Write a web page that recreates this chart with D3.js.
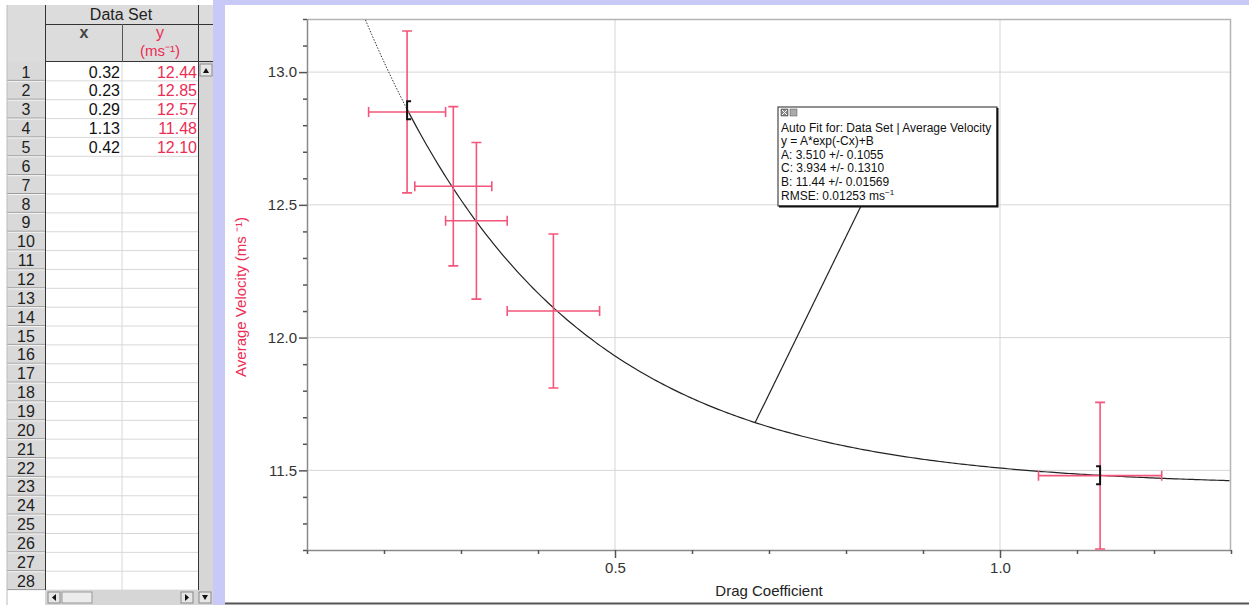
<!DOCTYPE html>
<html>
<head>
<meta charset="utf-8">
<script src="https://cdn.jsdelivr.net/npm/d3@7"></script>
<style>
  body { margin: 0; background: #fff; }
  svg { display: block; font-family: "Liberation Sans", Arial, sans-serif; }
</style>
</head>
<body>
<svg id="svg" width="1249" height="605"></svg>
<script>
// data set (table order)
const xVals = [0.32, 0.23, 0.29, 1.13, 0.42];
const yVals = [12.44, 12.85, 12.57, 11.48, 12.10];
const xErr = [0.04, 0.05, 0.05, 0.08, 0.06];
const yErr = [0.295, 0.305, 0.30, 0.276, 0.29];
const yLabels = ['12.44', '12.85', '12.57', '11.48', '12.10'];

// auto fit y = A*exp(-Cx)+B
const fitA = 3.510, fitC = 3.934, fitB = 11.44;
const fitRange = [0.23, 1.13];
const fitLines = [
  'Auto Fit for: Data Set | Average Velocity',
  'y = A*exp(-Cx)+B',
  'A: 3.510 +/- 0.1055',
  'C: 3.934 +/- 0.1310',
  'B: 11.44 +/- 0.01569'
];

// axis ticks
const xMajor = [0.5, 1.0];
const xMinor = [0.1, 0.2, 0.3, 0.4, 0.6, 0.7, 0.8, 0.9, 1.1, 1.2, 1.3];
const yMajor = [11.5, 12.0, 12.5, 13.0];
const yMinor = [11.2, 11.3, 11.4, 11.6, 11.7, 11.8, 11.9, 12.1, 12.2, 12.3, 12.4, 12.6, 12.7, 12.8, 12.9, 13.1, 13.2];

const red = '#ec2d55';
const barRed = '#f4557a';
const svg = d3.select('#svg');

// ---------- frame / background ----------
svg.append('rect').attr('x', 213).attr('y', 0).attr('width', 1249 - 213).attr('height', 5).attr('fill', '#c9c9f7');
svg.append('rect').attr('x', 213).attr('y', 0).attr('width', 12).attr('height', 605).attr('fill', '#c9c9f7');
svg.append('line').attr('x1', 225).attr('x2', 1249).attr('y1', 603.5).attr('y2', 603.5).attr('stroke', '#555').attr('stroke-width', 2);

// ---------- table ----------
const tbl = svg.append('g');
const rowTop = 62, rowH = 18.86, nRows = 28;
const rows = d3.range(1, nRows + 1);
const ry = d3.scaleLinear().domain([0, nRows]).range([rowTop, rowTop + rowH * nRows]);

// header background
tbl.append('rect').attr('x', 7).attr('y', 5).attr('width', 206).attr('height', rowTop - 5).attr('fill', '#dcdcdc');
// row number column
tbl.append('rect').attr('x', 7).attr('y', rowTop).attr('width', 38).attr('height', rowH * nRows).attr('fill', '#d9d9d9');
// scrollbar column
tbl.append('rect').attr('x', 198).attr('y', rowTop).attr('width', 15).attr('height', rowH * nRows + 15).attr('fill', '#d6d6d6');

rows.forEach((r, i) => {
  tbl.append('line').attr('x1', 7).attr('x2', 45).attr('y1', ry(i + 1) - 0.5).attr('y2', ry(i + 1) - 0.5).attr('stroke', '#9a9a9a');
  tbl.append('line').attr('x1', 7).attr('x2', 45).attr('y1', ry(i + 1) + 0.5).attr('y2', ry(i + 1) + 0.5).attr('stroke', '#f4f4f4');
  tbl.append('line').attr('x1', 45).attr('x2', 198).attr('y1', ry(i + 1)).attr('y2', ry(i + 1)).attr('stroke', '#d8d8d8');
  tbl.append('text').attr('x', 26).attr('y', ry(i) + 15.5).attr('text-anchor', 'middle')
    .attr('font-size', 16).attr('fill', '#222').text(r);
});
tbl.append('line').attr('x1', 122).attr('x2', 122).attr('y1', rowTop).attr('y2', ry(nRows)).attr('stroke', '#d8d8d8');

xVals.forEach((v, i) => {
  tbl.append('text').attr('x', 120).attr('y', ry(i) + 15.5).attr('text-anchor', 'end')
    .attr('font-size', 16).attr('fill', '#111').text(v.toFixed(2));
  tbl.append('text').attr('x', 197).attr('y', ry(i) + 15.5).attr('text-anchor', 'end')
    .attr('font-size', 16).attr('fill', red).text(yLabels[i]);
});

// header texts & lines
tbl.append('text').attr('x', 121).attr('y', 20).attr('text-anchor', 'middle').attr('font-size', 16).attr('fill', '#222').text('Data Set');
tbl.append('text').attr('x', 84).attr('y', 38).attr('text-anchor', 'middle').attr('font-size', 16).attr('font-weight', 'bold').attr('fill', '#444').text('x');
tbl.append('text').attr('x', 160).attr('y', 38).attr('text-anchor', 'middle').attr('font-size', 16).attr('fill', red).text('y');
tbl.append('text').attr('x', 160).attr('y', 56).attr('text-anchor', 'middle').attr('font-size', 15).attr('fill', red).text('(ms\u207B\u00B9)');
tbl.append('line').attr('x1', 45).attr('x2', 213).attr('y1', 24.5).attr('y2', 24.5).attr('stroke', '#333');
tbl.append('line').attr('x1', 45).attr('x2', 213).attr('y1', rowTop - 0.5).attr('y2', rowTop - 0.5).attr('stroke', '#333');
tbl.append('line').attr('x1', 122.5).attr('x2', 122.5).attr('y1', 24).attr('y2', rowTop).attr('stroke', '#555');
tbl.append('line').attr('x1', 45.5).attr('x2', 45.5).attr('y1', 5).attr('y2', 590).attr('stroke', '#333');
tbl.append('line').attr('x1', 198.5).attr('x2', 198.5).attr('y1', 5).attr('y2', 590).attr('stroke', '#333');
tbl.append('line').attr('x1', 7).attr('x2', 7).attr('y1', 5).attr('y2', 605).attr('stroke', '#bbb');

// scroll buttons
function btn(x, y, w, h, pts) {
  tbl.append('rect').attr('x', x).attr('y', y).attr('width', w).attr('height', h)
    .attr('fill', '#e6e6e6').attr('stroke', '#888');
  if (pts) tbl.append('path').attr('d', d3.line()(pts)).attr('fill', '#111');
}
btn(200, 64, 12, 12, [[203, 73], [209, 73], [206, 68]]);
tbl.append('rect').attr('x', 45).attr('y', 590).attr('width', 168).attr('height', 15).attr('fill', '#d6d6d6');
btn(48, 592, 12, 11, [[56, 594], [56, 601], [52, 597.5]]);
tbl.append('rect').attr('x', 62).attr('y', 592).attr('width', 30).attr('height', 11).attr('fill', '#ececec').attr('stroke', '#999');
btn(181, 592, 12, 11, [[185, 594], [185, 601], [189, 597.5]]);
btn(199, 592, 12, 11, [[202, 595], [208, 595], [205, 600]]);

// ---------- graph ----------
const plot = {left: 307, top: 19, right: 1231, bottom: 550};
const x = d3.scaleLinear().domain([0.1, 1.3]).range([plot.left, plot.right]);
const y = d3.scaleLinear().domain([11.2, 13.2]).range([plot.bottom, plot.top]);

const gg = svg.append('g');
// grid
gg.selectAll('line.gx').data(xMajor).join('line')
  .attr('x1', d => x(d)).attr('x2', d => x(d)).attr('y1', plot.top).attr('y2', plot.bottom)
  .attr('stroke', '#d6d6d6');
gg.selectAll('line.gy').data(yMajor).join('line')
  .attr('x1', plot.left).attr('x2', plot.right).attr('y1', d => y(d)).attr('y2', d => y(d))
  .attr('stroke', '#d6d6d6');
// top & right frame
gg.append('path').attr('d', `M${plot.left},${plot.top + 0.5}H${plot.right - 0.5}V${plot.bottom}`)
  .attr('fill', 'none').attr('stroke', '#b4b4b4').attr('stroke-width', 1.5);

// axes
function styleAxis(sel) {
  sel.select('.domain').attr('stroke', '#8a8a8a').attr('stroke-width', 1.5);
  sel.selectAll('.tick line').attr('stroke', '#555').attr('stroke-width', 1.5);
  sel.selectAll('.tick text').attr('fill', '#333').style('font-size', '15px')
    .style('font-family', '"Liberation Sans", Arial, sans-serif');
}
gg.append('g').attr('transform', `translate(0,${plot.bottom})`)
  .call(d3.axisBottom(x).tickValues(xMinor).tickSize(4).tickSizeOuter(0).tickFormat(''))
  .call(styleAxis);
gg.append('g').attr('transform', `translate(0,${plot.bottom})`)
  .call(d3.axisBottom(x).tickValues(xMajor).tickSize(8).tickPadding(4).tickSizeOuter(0).tickFormat(d3.format('.1f')))
  .call(styleAxis).call(s => s.select('.domain').remove());
gg.append('g').attr('transform', `translate(${plot.left},0)`)
  .call(d3.axisLeft(y).tickValues(yMinor).tickSize(4).tickSizeOuter(0).tickFormat(''))
  .call(styleAxis);
gg.append('g').attr('transform', `translate(${plot.left},0)`)
  .call(d3.axisLeft(y).tickValues(yMajor).tickSize(8).tickPadding(2).tickSizeOuter(0).tickFormat(d3.format('.1f')))
  .call(styleAxis).call(s => s.select('.domain').remove());

// axis titles
svg.append('text').attr('x', 769).attr('y', 596).attr('text-anchor', 'middle')
  .attr('font-size', 15).attr('fill', '#222').text('Drag Coefficient');
svg.append('text').attr('transform', 'translate(246,297) rotate(-90)').attr('text-anchor', 'middle')
  .attr('font-size', 15).attr('fill', red).text('Average Velocity (ms \u207B\u00B9)');

// clip
svg.append('clipPath').attr('id', 'clip').append('rect')
  .attr('x', plot.left).attr('y', plot.top).attr('width', plot.right - plot.left).attr('height', plot.bottom - plot.top);
const inner = svg.append('g').attr('clip-path', 'url(#clip)');

// fit curve
const fit = v => fitA * Math.exp(-fitC * v) + fitB;
const line = d3.line().x(d => x(d)).y(d => y(fit(d)));
inner.append('path').attr('d', line(d3.range(0.15, fitRange[0] + 0.0001, 0.002)))
  .attr('fill', 'none').attr('stroke', '#333').attr('stroke-width', 1).attr('stroke-dasharray', '1.5,1.5');
inner.append('path').attr('d', line(d3.range(fitRange[0], 1.3005, 0.004)))
  .attr('fill', 'none').attr('stroke', '#222').attr('stroke-width', 1.2);

// error bars
const pts = xVals.map((v, i) => ({x: v, y: yVals[i], ex: xErr[i], ey: yErr[i]}));
const eb = inner.append('g').attr('stroke', barRed).attr('stroke-width', 1.6).attr('fill', 'none');
pts.forEach(p => {
  const cx = x(p.x), cy = y(p.y);
  const y0 = y(p.y + p.ey), y1 = y(p.y - p.ey);
  const x0 = x(p.x - p.ex), x1 = x(p.x + p.ex);
  eb.append('path').attr('d',
    `M${cx},${y0}V${y1}M${cx - 5},${y0}H${cx + 5}M${cx - 5},${y1}H${cx + 5}` +
    `M${x0},${cy}H${x1}M${x0},${cy - 5}V${cy + 5}M${x1},${cy - 5}V${cy + 5}`);
});

// fit range brackets
const bl = [x(fitRange[0]), y(fit(fitRange[0]))];
const br = [x(fitRange[1]), y(fit(fitRange[1]))];
svg.append('path').attr('d', `M${bl[0] + 4},${bl[1] - 8}H${bl[0]}V${bl[1] + 10}H${bl[0] + 4}`)
  .attr('fill', 'none').attr('stroke', '#111').attr('stroke-width', 2);
svg.append('path').attr('d', `M${br[0] - 4},${br[1] - 9}H${br[0]}V${br[1] + 9}H${br[0] - 4}`)
  .attr('fill', 'none').attr('stroke', '#111').attr('stroke-width', 2);

// annotation box + leader line
const box = {x: 778, y: 107, w: 219, h: 99};
const anchorX = 0.682;
svg.append('line').attr('x1', 861).attr('y1', box.y + box.h).attr('x2', x(anchorX)).attr('y2', y(fit(anchorX)))
  .attr('stroke', '#222').attr('stroke-width', 1.2);
svg.append('rect').attr('x', box.x).attr('y', box.y).attr('width', box.w).attr('height', box.h)
  .attr('fill', '#fff').attr('stroke', '#222').attr('stroke-width', 1);
svg.append('path').attr('d', `M${box.x + box.w + 0.5},${box.y + 1}V${box.y + box.h + 0.5}H${box.x + 1}`)
  .attr('fill', 'none').attr('stroke', '#111').attr('stroke-width', 2);
svg.append('rect').attr('x', box.x + 3).attr('y', box.y + 2).attr('width', 7).attr('height', 7).attr('fill', '#888').attr('stroke', '#333').attr('stroke-width', 0.5);
svg.append('path').attr('d', `M${box.x + 4},${box.y + 3}L${box.x + 9},${box.y + 8}M${box.x + 9},${box.y + 3}L${box.x + 4},${box.y + 8}`).attr('stroke', '#fff').attr('stroke-width', 1);
svg.append('rect').attr('x', box.x + 12).attr('y', box.y + 2).attr('width', 7).attr('height', 7).attr('fill', '#aaa').attr('stroke', '#555').attr('stroke-width', 0.5);
const bt = svg.append('g').attr('font-size', 12).attr('fill', '#111');
fitLines.forEach((t, i) => {
  bt.append('text').attr('x', box.x + 3).attr('y', box.y + 25 + i * 13.4).text(t);
});
const rm = bt.append('text').attr('x', box.x + 3).attr('y', box.y + 25 + 5 * 13.4 + 1);
rm.append('tspan').text('RMSE: 0.01253 ms');
rm.append('tspan').attr('font-size', 8).attr('dy', -5).text('\u22121');
</script>
</body>
</html>
